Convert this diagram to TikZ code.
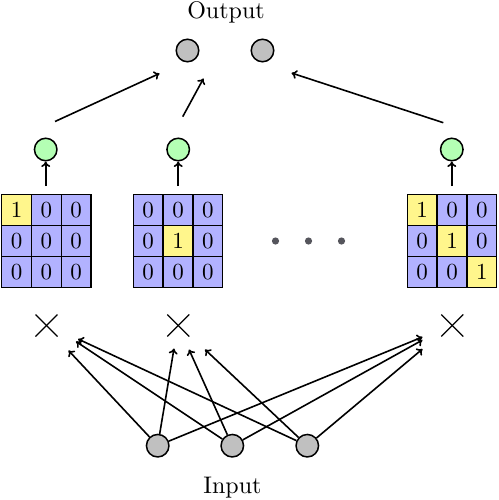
\documentclass[tikz,border=0pt]{standalone}
\usetikzlibrary{arrows.meta,calc}
\definecolor{cellblue}{RGB}{178,178,255}
\definecolor{cellyellow}{RGB}{255,246,140}
\definecolor{neurgreen}{RGB}{180,255,180}
\definecolor{neurgray}{RGB}{192,192,192}
\definecolor{dotgray}{RGB}{85,85,92}
\newcommand{\cellnum}[1]{\scalebox{2.3}{#1}}
\newcommand{\biglabel}[1]{\scalebox{2.4}{#1}}
\tikzset{
  neuron/.style={circle, draw=black, line width=1.5pt, minimum size=22.5pt, inner sep=0pt},
  outn/.style={neuron, fill=neurgray},
  gn/.style={neuron, fill=neurgreen},
  cellbox/.style={rectangle, draw=black, line width=1.4pt, minimum width=29.8pt, minimum height=31pt, inner sep=0pt},
  bc/.style={cellbox, fill=cellblue},
  yc/.style={cellbox, fill=cellyellow},
  conn/.style={line width=1.6pt, -{To[length=5.5pt,width=9pt]}},
  crossline/.style={line width=1.2pt},
  lbl/.style={inner sep=0pt}
}
\begin{document}
\begin{tikzpicture}[x=1pt,y=-1pt]
\useasboundingbox (0,0) rectangle (498,500);
% labels
\node[lbl] (outlbl) at (226,12) {\biglabel{Output}};
\node[lbl] (inlbl) at (232.5,488) {\biglabel{Input}};
% output neurons
\node[outn] (o1) at (187.5,50.5) {};
\node[outn] (o2) at (262.5,50.5) {};
% green neurons
\node[gn] (g1) at (45.7,149.5) {};
\node[gn] (g2) at (178.2,149.5) {};
\node[gn] (g3) at (451.8,149.5) {};
% top arrows
\coordinate (t1s) at (55,121.5);
\coordinate (t1e) at (159.5,73.5);
\coordinate (t2s) at (182.7,116.7);
\coordinate (t2e) at (203.5,78.5);
\coordinate (t3s) at (443.3,122.7);
\coordinate (t3e) at (291.5,73);
\draw[conn] (t1s) -- (t1e);
\draw[conn] (t2s) -- (t2e);
\draw[conn] (t3s) -- (t3e);
% grid 1
\foreach \r in {0,1,2}{\foreach \c in {0,1,2}{
  \pgfmathtruncatemacro{\isone}{(\r==0 && \c==0) ? 1 : 0}
  \ifnum\isone=1
    \node[yc] (a\r\c) at ({16.6+29.8*\c},{209.8+31*\r}) {\cellnum{1}};
  \else
    \node[bc] (a\r\c) at ({16.6+29.8*\c},{209.8+31*\r}) {\cellnum{0}};
  \fi
}}
% grid 2
\foreach \r in {0,1,2}{\foreach \c in {0,1,2}{
  \pgfmathtruncatemacro{\isone}{(\r==1 && \c==1) ? 1 : 0}
  \ifnum\isone=1
    \node[yc] (b\r\c) at ({148.2+29.8*\c},{209.8+31*\r}) {\cellnum{1}};
  \else
    \node[bc] (b\r\c) at ({148.2+29.8*\c},{209.8+31*\r}) {\cellnum{0}};
  \fi
}}
% grid 3
\foreach \r in {0,1,2}{\foreach \c in {0,1,2}{
  \pgfmathtruncatemacro{\isone}{(\r==\c) ? 1 : 0}
  \ifnum\isone=1
    \node[yc] (d\r\c) at ({422.2+29.8*\c},{209.8+31*\r}) {\cellnum{1}};
  \else
    \node[bc] (d\r\c) at ({422.2+29.8*\c},{209.8+31*\r}) {\cellnum{0}};
  \fi
}}
% grid to green arrows
\coordinate (ga) at (45.7,186);
\coordinate (gb) at (178.2,186);
\coordinate (gc) at (451.8,186);
\draw[conn] (ga) -- (g1);
\draw[conn] (gb) -- (g2);
\draw[conn] (gc) -- (g3);
% dots
\fill[dotgray] (275.5,241) circle (3.6pt);
\fill[dotgray] (308.5,241) circle (3.6pt);
\fill[dotgray] (341.5,241) circle (3.6pt);
% crosses
\foreach \x/\n in {46.5/x1,178.3/x2,452.3/x3}{
  \coordinate (\n) at (\x,325.5);
  \draw[crossline] ($(\n)+(-11,-11)$) -- ($(\n)+(11,11)$);
  \draw[crossline] ($(\n)+(-11,11)$) -- ($(\n)+(11,-11)$);
}
% input neurons
\node[outn] (i1) at (157.7,445.7) {};
\node[outn] (i2) at (232.3,445.7) {};
\node[outn] (i3) at (307.3,445.7) {};
% arrow targets
\coordinate (e11) at (68.5,350.5);
\coordinate (e12) at (174,348.5);
\coordinate (e13) at (422.5,337);
\coordinate (e21) at (76,341.5);
\coordinate (e22) at (189,349.5);
\coordinate (e23) at (422.5,340);
\coordinate (e31) at (78,339);
\coordinate (e32) at (205,349.5);
\coordinate (e33) at (422.5,349);
\foreach \i in {1,2,3}{\foreach \j in {1,2,3}{
  \draw[conn] (i\i) -- (e\i\j);
}}
\end{tikzpicture}
\end{document}
